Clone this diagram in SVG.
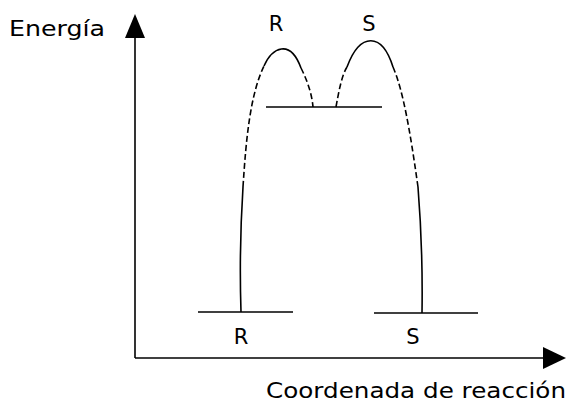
<svg xmlns="http://www.w3.org/2000/svg" width="570" height="402" viewBox="0 0 570 402">
<style>
.ln{fill:none;stroke:#000;stroke-width:1.6}
.ds{fill:none;stroke:#000;stroke-width:1.6;stroke-dasharray:6 3}
.t{font-family:"DejaVu Sans","Liberation Sans",sans-serif;font-size:21px;fill:#000}
</style>
<rect width="570" height="402" fill="#fff"/>
<g id="axes">
<line class="ln" x1="135" y1="34" x2="135" y2="358"/>
<line class="ln" x1="135" y1="358" x2="545" y2="358"/>
<polygon points="135,14 125,38 145,38" fill="#000"/>
<polygon points="566,358 543,347 543,369" fill="#000"/>
</g>
<g id="levels">
<line class="ln" x1="198" y1="312" x2="293" y2="312"/>
<line class="ln" x1="374" y1="313" x2="478" y2="313"/>
<line class="ln" x1="266" y1="107" x2="382" y2="107"/>
</g>
<g id="connectors">
<path class="ln" d="M241,312 Q239,250 243,187"/>
<path class="ds" d="M243,187 C246,140 250,95 264,66"/>
<path class="ln" d="M264,66 C272,48 290,38 301,68"/>
<path class="ds" d="M301,68 C308,82 312,95 313,107"/>
<path class="ds" d="M336,107 C339,90 342,75 347,67"/>
<path class="ln" d="M347,67 C360,32 382,32 393,67"/>
<path class="ds" d="M393,67 C403,90 410,130 418,187"/>
<path class="ln" d="M418,187 Q423,250 422,313"/>
</g>
<g id="labels">
<text class="t" x="9" y="36" textLength="96" lengthAdjust="spacingAndGlyphs">Energía</text>
<text class="t" x="276" y="31" text-anchor="middle">R</text>
<text class="t" x="369" y="31" text-anchor="middle">S</text>
<text class="t" x="241" y="344" text-anchor="middle">R</text>
<text class="t" x="413" y="344" text-anchor="middle">S</text>
<text class="t" x="266" y="398" textLength="300" lengthAdjust="spacingAndGlyphs">Coordenada de reacción</text>
</g>
</svg>
